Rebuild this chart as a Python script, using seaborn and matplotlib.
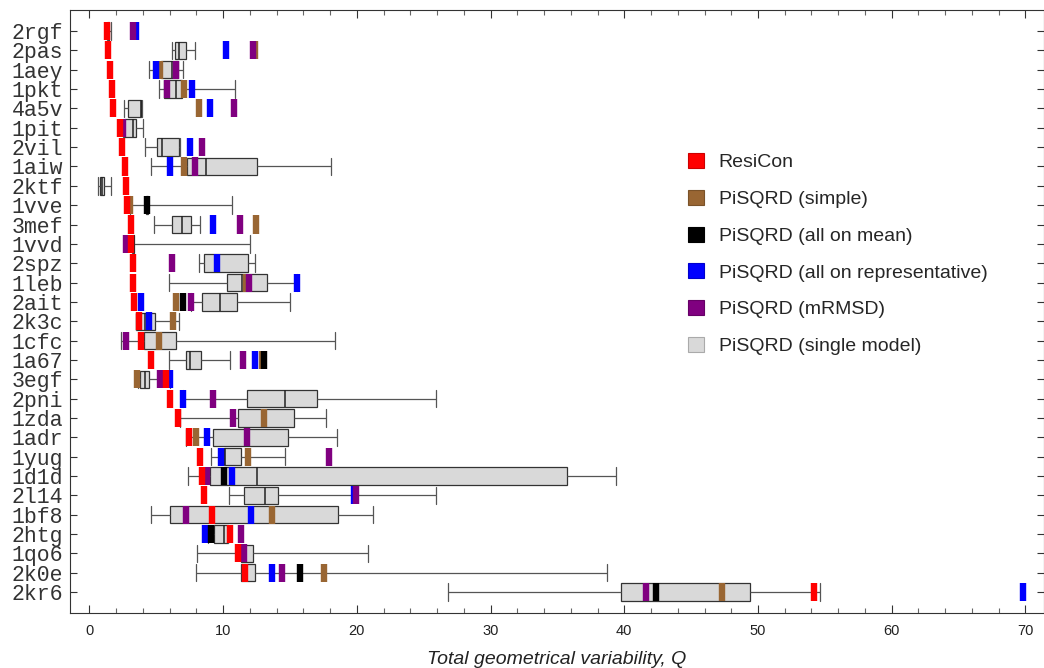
import numpy as np
import pandas as pd
import matplotlib
matplotlib.use("Agg")
import matplotlib.pyplot as plt
from matplotlib.patches import Patch
from matplotlib.ticker import MultipleLocator
import seaborn as sns

nan = np.nan

proteins = ['2rgf', '2pas', '1aey', '1pkt', '4a5v', '1pit', '2vil', '1aiw', '2ktf', '1vve',
            '3mef', '1vvd', '2spz', '1leb', '2ait', '2k3c', '1cfc', '1a67', '3egf', '2pni',
            '1zda', '1adr', '1yug', '1d1d', '2l14', '1bf8', '2htg', '1qo6', '2k0e', '2kr6']

# five-number summary of the single-model PiSQRD runs (box plot)
whis_lo = [1.30, 6.19, 4.49, 5.21, 2.62, 2.50, 4.17, 4.59, 0.65, 3.00, 4.81, 3.20, 8.16, 5.94, 7.60,
           3.52, 2.37, 5.94, 3.60, 7.00, 6.81, 7.19, 9.11, 7.39, 10.46, 4.59, 8.90, 8.06, 7.96, 26.85]
q1 = [1.40, 6.39, 5.36, 5.54, 2.90, 2.62, 5.06, 7.31, 0.77, 4.20, 6.14, 3.25, 8.56, 10.30, 8.43,
      3.52, 4.07, 7.21, 3.77, 11.75, 11.13, 9.23, 10.10, 9.01, 11.55, 6.01, 9.31, 11.30, 11.30, 39.78]
med = [1.45, 6.70, 6.19, 6.46, 3.85, 3.24, 5.44, 8.71, 0.95, 4.30, 6.94, 3.30, 9.56, 11.40, 9.75,
       4.19, 5.21, 7.49, 4.19, 14.62, 13.07, 11.80, 10.15, 12.55, 13.12, 12.05, 10.10, 11.60, 11.60, 42.40]
q3 = [1.50, 7.24, 6.61, 6.89, 3.89, 3.52, 6.71, 12.55, 1.12, 4.40, 7.58, 3.35, 11.85, 13.25, 11.05,
      4.89, 6.51, 8.36, 4.44, 17.04, 15.29, 14.84, 11.35, 35.74, 14.10, 18.61, 10.35, 12.22, 12.37, 49.40]
whis_hi = [1.65, 7.86, 7.01, 10.90, 3.92, 3.99, 6.80, 18.04, 1.65, 10.65, 8.28, 12.00, 12.35, 15.50, 14.99,
           6.69, 18.36, 10.55, 6.06, 25.90, 17.66, 18.54, 14.60, 39.35, 25.95, 21.18, 10.40, 20.81, 38.73, 54.60]

resicon = [1.35, 1.40, 1.57, 1.72, 1.75, 2.27, 2.45, 2.64, 2.77, 2.82, 3.14, 3.14, 3.24, 3.24, 3.37,
           3.69, 3.82, 4.57, 5.76, 6.01, 6.61, 7.43, 8.26, 8.41, 8.58, 9.18, 10.55, 11.08, 11.62, 54.15]
simple = [nan, 12.40, 5.31, 7.04, 8.16, nan, nan, 7.09, nan, 3.07, 12.45, nan, nan, 11.70, 6.44,
          6.26, 5.21, 12.92, 3.57, nan, 13.07, 7.98, 11.85, nan, nan, 13.62, nan, nan, 17.51, 47.30]
all_mean = [nan, nan, nan, nan, nan, nan, nan, nan, nan, 4.32, nan, nan, nan, nan, 6.98,
            nan, nan, 13.05, nan, nan, nan, nan, nan, 10.05, nan, nan, 9.06, nan, 15.72, 42.40]
all_rep = [3.50, 10.20, 4.99, 7.66, 9.03, nan, 7.51, 5.99, nan, nan, 9.23, nan, 9.56, 15.50, 3.89,
           4.49, nan, 12.35, 6.06, 7.01, nan, 8.81, 9.86, 10.63, 19.80, 12.05, 8.68, nan, 13.67, 69.85]
mrmsd = [3.27, 12.20, 6.44, 5.81, 10.78, 2.52, 8.43, 7.88, nan, nan, 11.25, 2.77, 6.21, 11.90, 7.61,
         nan, 2.72, 11.50, 5.31, 9.26, 10.70, 11.80, 17.91, 8.81, 19.93, 7.23, 11.35, 11.55, 14.37, 41.60]

labels = ['ResiCon', 'PiSQRD (simple)', 'PiSQRD (all on mean)',
          'PiSQRD (all on representative)', 'PiSQRD (mRMSD)', 'PiSQRD (single model)']
colors = ['#ff0000', '#996633', '#000000', '#0000ff', '#800080', '#d9d9d9']
edges = ['#cc0000', '#7a5229', '#000000', '#0000cc', '#660066', '#aaaaaa']

sns.set_style("ticks")
plt.rcParams['font.family'] = ['Liberation Sans', 'DejaVu Sans']

box_df = pd.DataFrame({
    'protein': np.repeat(proteins, 5),
    'Q': np.column_stack([whis_lo, q1, med, q3, whis_hi]).ravel(),
})

# markers, listed in painting order (ResiCon last, on top)
series = {labels[1]: simple, labels[3]: all_rep, labels[2]: all_mean,
          labels[4]: mrmsd, labels[0]: resicon}
rows = []
for method, vals in series.items():
    for p, v in zip(proteins, vals):
        if not np.isnan(v):
            rows.append((p, v, method))
mk_df = pd.DataFrame(rows, columns=['protein', 'Q', 'method'])
palette = dict(zip(labels[:5], colors[:5]))

fig = plt.figure(figsize=(10.44, 6.68), dpi=100)
ax = fig.add_axes([69.5 / 1044, (668 - 613.3) / 668, 974 / 1044, 603.3 / 668])

sns.boxplot(data=box_df, x='Q', y='protein', order=proteins, orient='y',
            whis=(0, 100), width=0.9, color='#d9d9d9', saturation=1,
            linecolor='#333333', linewidth=0.9, capwidths=0.9,
            medianprops={'color': '#222222', 'linewidth': 1.1},
            whiskerprops={'color': '#555555', 'linewidth': 0.9},
            capprops={'color': '#555555', 'linewidth': 0.9},
            ax=ax)

sns.stripplot(data=mk_df, x='Q', y='protein', hue='method', order=proteins,
              palette=palette, jitter=False, marker='|', size=13, linewidth=4.6,
              legend=False, zorder=5, ax=ax)

ax.set_xlim(-1.49, 71.35)
ax.set_ylim(30.1, -1.09)
ax.xaxis.set_major_locator(MultipleLocator(10))
ax.xaxis.set_minor_locator(MultipleLocator(2))
ax.tick_params(which='both', direction='in', top=True, right=True, color='#333333')
ax.tick_params(axis='x', which='major', length=5.8, width=0.8, labelsize=10.5, pad=8, labelcolor='#222222')
ax.tick_params(axis='x', which='minor', length=3.5, width=0.8, color='#666666')
ax.tick_params(axis='y', length=5, width=0.8, pad=4.5, labelcolor='#333333')
for lab in ax.get_yticklabels():
    lab.set_fontfamily('Liberation Mono')
    lab.set_fontsize(15.5)
for sp in ax.spines.values():
    sp.set_color('#333333')
    sp.set_linewidth(0.8)

ax.set_ylabel('')
ax.set_xlabel('Total geometrical variability, Q', fontsize=14, style='italic',
              color='#222222', labelpad=9)

handles = [Patch(facecolor=c, edgecolor=e, linewidth=0.8, label=l)
           for c, e, l in zip(colors, edges, labels)]
ax.legend(handles=handles, loc='upper left', bbox_to_anchor=(688 / 1044, 1 - 153 / 668),
          bbox_transform=fig.transFigure, frameon=False, fontsize=14, borderpad=0,
          borderaxespad=0, handlelength=0.82, handleheight=0.82, handletextpad=0.75,
          labelspacing=0.95)

fig.savefig('out.png', dpi=100)
